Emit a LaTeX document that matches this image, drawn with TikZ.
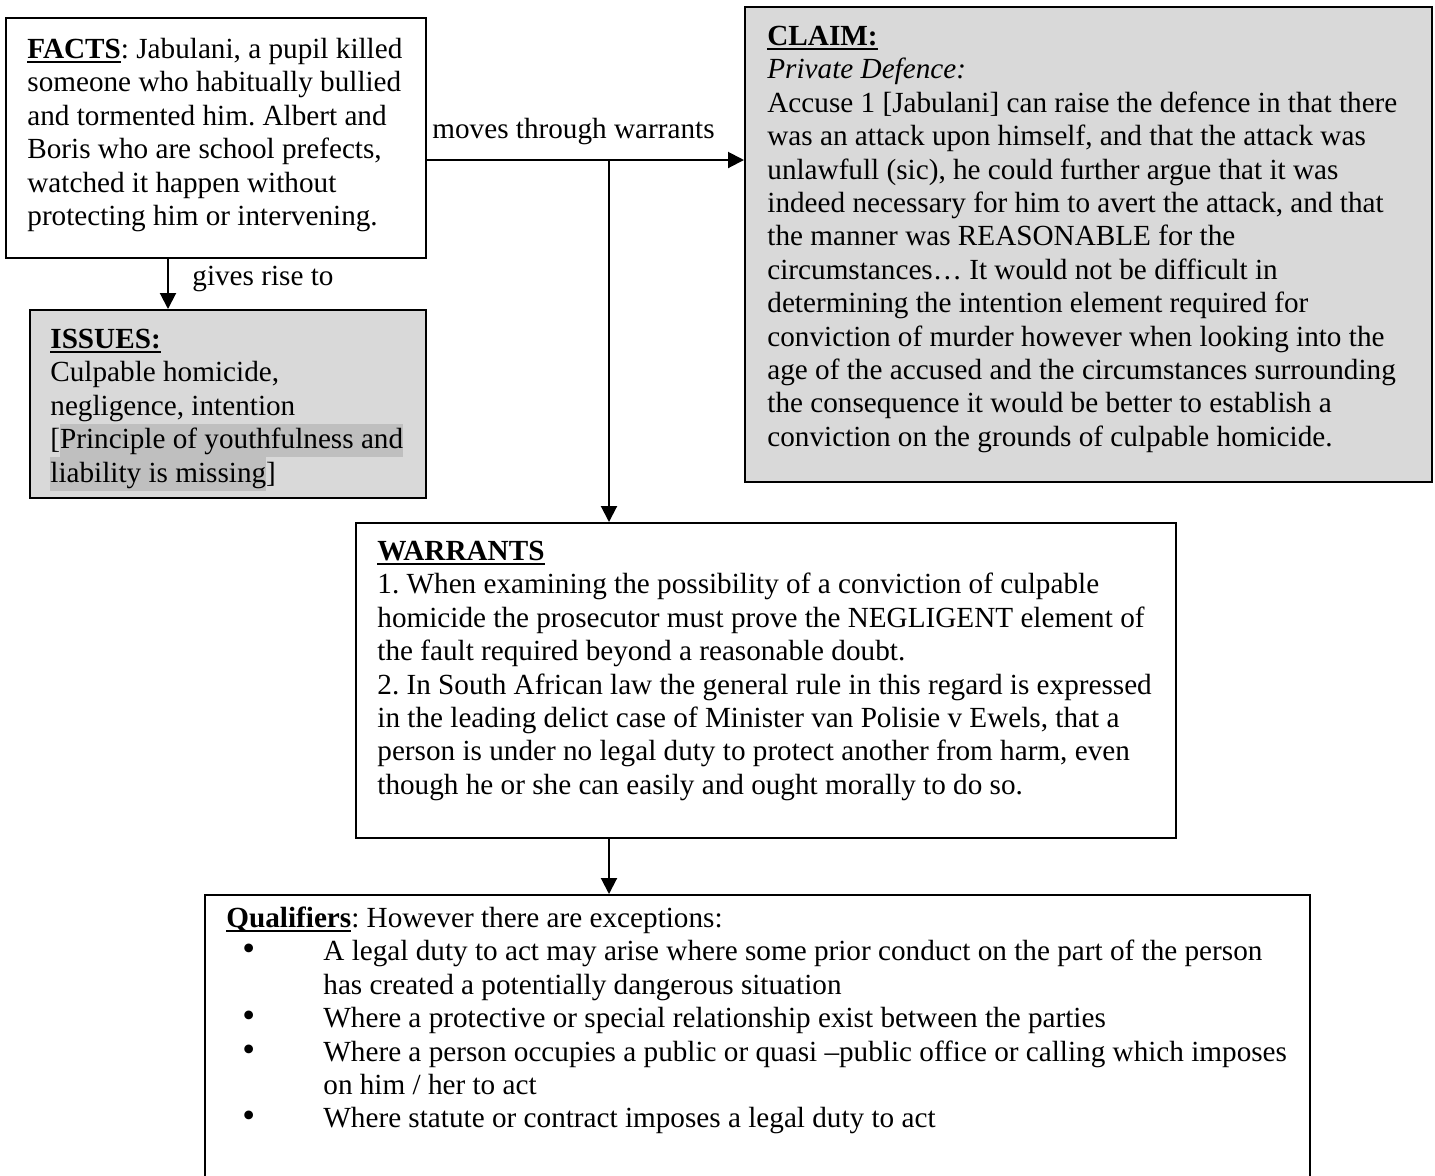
\documentclass[tikz,border=0pt]{standalone}
\usepackage{fontspec}
\usepackage{graphicx}
\setmainfont{Liberation Serif}
\usetikzlibrary{arrows.meta,fit}

\definecolor{boxgrey}{HTML}{D9D9D9}
\definecolor{hlgrey}{HTML}{BFBFBF}

% bold heading with a thick underline
\newcommand\hdr[1]{\setbox0\hbox{\textbf{#1}}\rlap{\rule[-2.2pt]{\wd0}{0.9pt}}\box0}
% grey text highlight spanning one line
\newcommand\hilite[1]{\setbox0\hbox{#1}\rlap{\color{hlgrey}\rule[-4.3pt]{\wd0}{16.7pt}}\box0}
% fixed first-line height so baselines land where wanted
\newcommand\firstline{\rule{0pt}{12pt}}
% bullet list lines
\newcommand\bitem{\hspace*{8pt}\makebox[40.5pt][l]{\scalebox{1.25}{\textbullet}}}
\newcommand\bcont{\hspace*{48.5pt}}

\begin{document}
\frenchspacing
\begin{tikzpicture}[x=0.5pt,y=-0.5pt,
  txt/.style={anchor=north west, inner sep=0pt, align=left,
              font=\fontsize{14.6pt}{16.7pt}\selectfont},
  frame/.style={draw=black, line width=1pt, inner sep=0pt},
  shaded/.style={frame, fill=boxgrey},
  link/.style={line width=1pt, -{Triangle[length=8pt,width=8pt]}}]

\useasboundingbox (0,0) rectangle (1435,1175);
\fill[white] (0,0) rectangle (1435,1175);
\clip (0,0) rectangle (1435,1175);

% boxes
\node[frame, fit={(6,18) (426,258)}] (facts) {};
\node[shaded, fit={(30,310) (426,498)}] (issues) {};
\node[shaded, fit={(745,7) (1432,482)}] (claim) {};
\node[frame, fill=white, fit={(356,523) (1176,838)}] (warrants) {};
\node[frame, fill=white, fit={(205,895) (1310,1215)}] (qualifiers) {};

% helper coordinates for connector routing
\coordinate (gx) at (168,0);
\coordinate (hy) at (0,160);
\coordinate (jn) at (609,160);

% connectors
\draw[link] (facts.south -| gx) -- (issues.north -| gx);
\draw[link] (facts.east |- hy) -- (claim.west |- hy);
\draw[link] (jn) -- (warrants.north -| jn);
\draw[link] (warrants.south -| jn) -- (qualifiers.north -| jn);

% connector labels
\node[txt] (lgives) at (192,261) {\firstline gives rise to};
\node[txt] (lmoves) at (432,114) {\firstline moves through warrants};

% box texts
\node[txt] (tfacts) at (27,34) {\firstline\hdr{FACTS}: Jabulani, a pupil killed\\
someone who habitually bullied\\
and tormented him. Albert and\\
Boris who are school prefects,\\
watched it happen without\\
protecting him or intervening.};

\node[txt] (tissues) at (50,324) {\firstline\hdr{ISSUES:}\\
Culpable homicide,\\
negligence, intention\\
{[}\hilite{Principle of youthfulness and}\\
\hilite{liability is missing}]};

\node[txt] (tclaim) at (767,21) {\firstline\hdr{CLAIM:}\\
\textit{Private Defence:}\\
Accuse 1 [Jabulani] can raise the defence in that there\\
was an attack upon himself, and that the attack was\\
unlawfull (sic), he could further argue that it was\\
indeed necessary for him to avert the attack, and that\\
the manner was REASONABLE for the\\
circumstances… It would not be difficult in\\
determining the intention element required for\\
conviction of murder however when looking into the\\
age of the accused and the circumstances surrounding\\
the consequence it would be better to establish a\\
conviction on the grounds of culpable homicide.};

\node[txt] (twarrants) at (377,536) {\firstline\hdr{WARRANTS}\\
1. When examining the possibility of a conviction of culpable\\
homicide the prosecutor must prove the NEGLIGENT element of\\
the fault required beyond a reasonable doubt.\\
2. In South African law the general rule in this regard is expressed\\
in the leading delict case of Minister van Polisie v Ewels, that a\\
person is under no legal duty to protect another from harm, even\\
though he or she can easily and ought morally to do so.};

\node[txt] (tqualifiers) at (226,903) {\firstline\hdr{Qualifiers}: However there are exceptions:\\
\bitem A legal duty to act may arise where some prior conduct on the part of the person\\
\bcont has created a potentially dangerous situation\\
\bitem Where a protective or special relationship exist between the parties\\
\bitem Where a person occupies a public or quasi –public office or calling which imposes\\
\bcont on him / her to act\\
\bitem Where statute or contract imposes a legal duty to act};

\end{tikzpicture}
\end{document}
